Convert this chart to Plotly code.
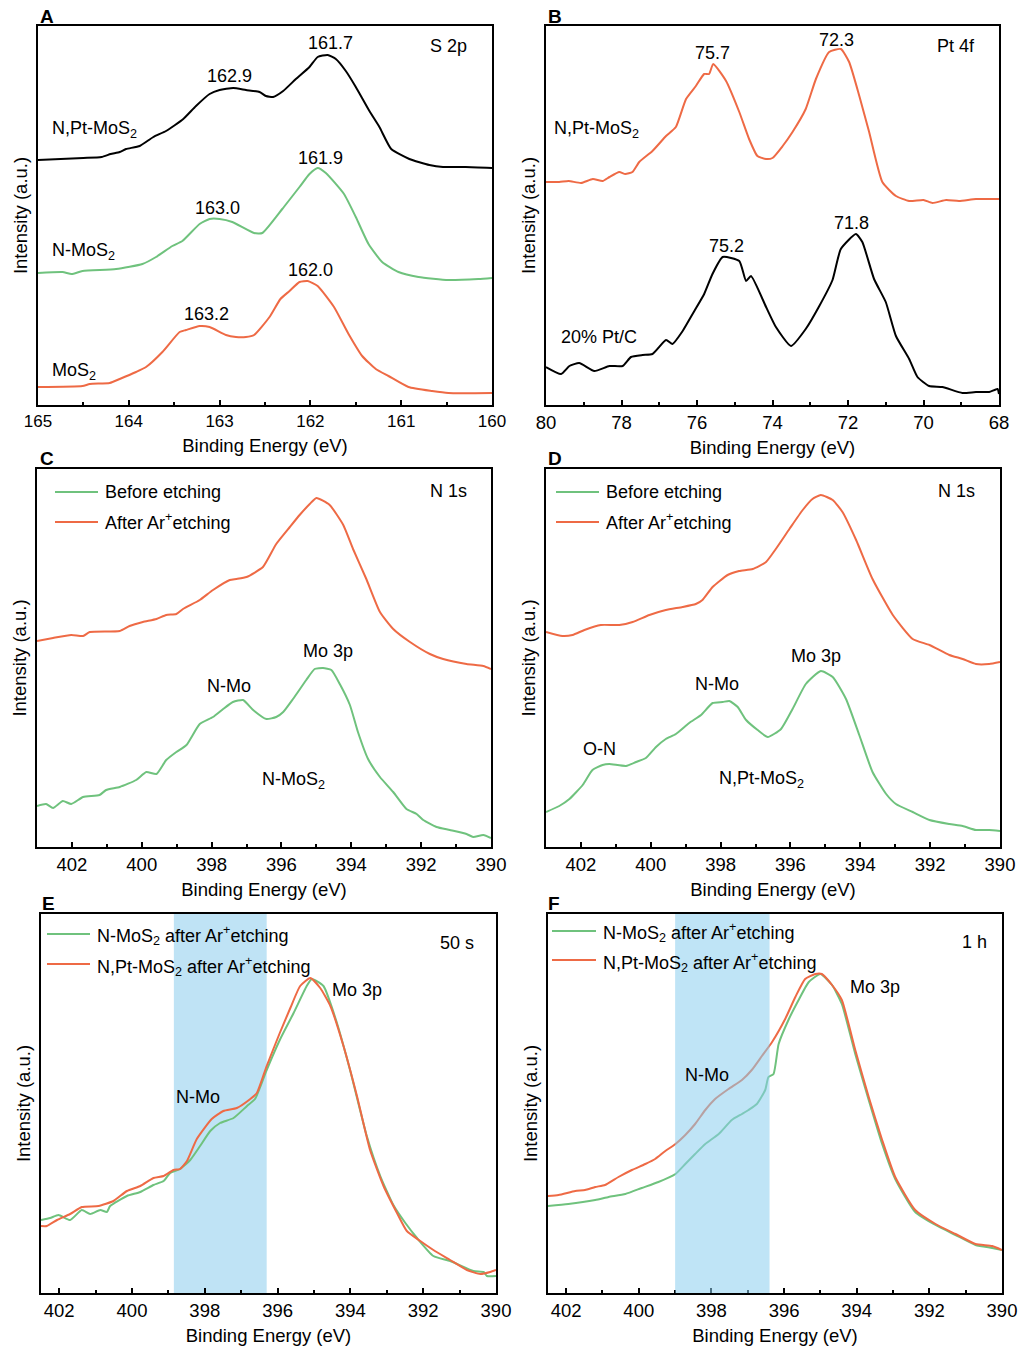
import plotly.graph_objects as go

W, H = 1019, 1349
RED = "#EE6A45"
GREEN = "#6FC27D"
BLACK = "#000000"
BAND = "#8ACDEE"
FONT = "Liberation Sans, Arial, sans-serif"

# ---------------- Panel A : S 2p ----------------
a_x_ntpt = [165.0, 164.5, 164.3, 164.2, 164.1, 164.03, 163.88, 163.73, 163.59, 163.4, 163.26, 163.11, 163.0,
            162.85, 162.71, 162.56, 162.49, 162.41, 162.3, 162.16, 162.01, 161.92, 161.81, 161.72, 161.61,
            161.5, 161.35, 161.24, 161.11, 160.91, 160.69, 160.54, 160.29, 160.0]
a_y_ntpt = [245, 247, 248, 251, 253, 256, 259, 268, 274, 286, 299, 311, 315, 317, 315, 313, 309, 308, 314,
            326, 338, 348, 350, 346, 334, 318, 294, 278, 256, 246, 240, 238, 238, 237]
a_x_nmos = [165.0, 164.73, 164.63, 164.51, 164.14, 163.85, 163.7, 163.52, 163.41, 163.22, 163.11, 163.0,
            162.86, 162.62, 162.53, 162.31, 162.12, 162.01, 161.92, 161.83, 161.63, 161.5, 161.36, 161.21,
            161.03, 160.81, 160.48, 160.15, 160.0]
a_y_nmos = [132, 133, 131, 134, 136, 141, 148, 159, 164, 181, 186, 186, 183, 172, 172, 196, 218, 231, 237,
            232, 211, 188, 161, 143, 133, 128, 125, 126, 127]
a_x_mos = [165.0, 164.51, 164.43, 164.21, 164.1, 163.92, 163.81, 163.63, 163.44, 163.37, 163.22, 163.11,
           162.93, 162.82, 162.71, 162.62, 162.45, 162.33, 162.23, 162.12, 162.03, 161.92, 161.74, 161.58,
           161.43, 161.28, 161.14, 160.92, 160.66, 160.48, 160.0]
a_y_mos = [18, 19, 21, 22, 26, 33, 38, 53, 73, 75, 79, 78, 70, 68, 68, 70, 88, 106, 114, 123, 124, 119, 98,
           71, 49, 36, 29, 18, 14, 12, 12]

# ---------------- Panel B : Pt 4f ----------------
b_x_ntpt = [80.0, 79.65, 79.4, 79.07, 78.76, 78.5, 78.32, 78.06, 77.9, 77.71, 77.53, 77.18, 76.82, 76.56,
            76.29, 76.03, 75.81, 75.68, 75.57, 75.23, 74.88, 74.62, 74.4, 74.17, 74.0, 73.73, 73.47, 73.12,
            72.85, 72.5, 72.19, 71.97, 71.7, 71.44, 71.09, 70.73, 70.38, 70.0, 69.76, 69.4, 69.06, 68.61, 68.0]
b_y_ntpt = [223, 223, 224, 222, 226, 224, 228, 233, 231, 233, 243, 254, 269, 278, 306, 319, 331, 331, 341,
            324, 293, 266, 249, 246, 247, 259, 273, 296, 326, 353, 356, 343, 309, 273, 223, 209, 204, 205,
            202, 205, 204, 206, 206]
b_x_ptc = [80.0, 79.6, 79.38, 79.12, 78.72, 78.32, 77.97, 77.75, 77.44, 77.18, 76.82, 76.65, 76.38, 76.07,
           75.81, 75.59, 75.32, 74.88, 74.7, 74.57, 74.17, 73.91, 73.51, 73.12, 72.76, 72.41, 72.19, 71.79,
           71.62, 71.31, 71.0, 70.73, 70.38, 70.16, 69.85, 69.5, 68.97, 68.61, 68.26, 68.04, 68.0]
b_y_ptc = [38, 31, 39, 42, 34, 39, 39, 48, 50, 51, 65, 61, 74, 94, 111, 131, 148, 144, 124, 129, 98, 78, 59,
           76, 99, 125, 156, 171, 163, 126, 103, 69, 46, 28, 19, 18, 12, 13, 13, 16, 11]

# ---------------- Panel C : N 1s (N-MoS2) ----------------
c_x_after = [403.0, 402.54, 402.02, 401.68, 401.49, 400.63, 400.35, 399.97, 399.58, 399.3, 399.01, 398.82,
             398.34, 397.96, 397.48, 397.29, 397.0, 396.53, 396.15, 395.76, 395.48, 395.19, 395.0, 394.62,
             394.23, 393.95, 393.57, 393.18, 392.8, 392.32, 391.75, 391.37, 390.7, 390.22, 390.0]
c_y_after = [206, 209, 212, 211, 215, 216, 221, 225, 228, 232, 233, 238, 247, 257, 267, 268, 270, 280, 303,
             320, 332, 343, 349, 342, 322, 298, 268, 235, 218, 205, 193, 188, 183, 181, 178]
c_x_before = [403.0, 402.74, 402.54, 402.26, 402.02, 401.68, 401.21, 401.02, 400.63, 400.16, 399.87, 399.58,
              399.3, 399.01, 398.72, 398.34, 397.96, 397.67, 397.39, 397.1, 396.81, 396.43, 396.15, 395.95,
              395.67, 395.29, 395.05, 394.81, 394.57, 394.33, 394.04, 393.81, 393.52, 393.18, 392.8, 392.42,
              392.13, 391.94, 391.56, 391.18, 390.7, 390.51, 390.22, 390.0]
c_y_before = [41, 43, 39, 46, 43, 50, 52, 57, 60, 67, 75, 73, 87, 95, 102, 123, 130, 138, 145, 147, 137, 128,
              130, 135, 148, 167, 178, 179, 177, 163, 142, 115, 88, 70, 55, 38, 33, 27, 20, 17, 13, 10, 12, 9]

# ---------------- Panel D : N 1s (N,Pt-MoS2) ----------------
d_x_after = [403.0, 402.53, 402.24, 401.9, 401.43, 400.9, 400.52, 400.04, 399.57, 399.09, 398.71, 398.52,
             398.23, 397.8, 397.47, 397.08, 396.7, 396.42, 396.03, 395.65, 395.37, 395.13, 394.79, 394.51,
             394.12, 393.65, 393.07, 392.5, 392.02, 391.45, 391.07, 390.69, 390.31, 390.0]
d_y_after = [215, 211, 212, 217, 222, 222, 225, 232, 237, 240, 243, 247, 260, 272, 276, 278, 285, 298, 318,
             337, 348, 352, 347, 335, 307, 268, 232, 208, 202, 192, 188, 183, 183, 185]
d_x_before = [403.0, 402.62, 402.33, 401.95, 401.67, 401.38, 401.19, 400.71, 400.42, 400.14, 399.85, 399.57,
              399.28, 398.9, 398.56, 398.23, 397.94, 397.75, 397.51, 397.27, 396.94, 396.65, 396.27, 395.94,
              395.56, 395.13, 394.79, 394.41, 394.03, 393.65, 393.26, 392.98, 392.5, 392.02, 391.45, 391.07,
              390.69, 390.31, 390.0]
d_y_before = [35, 41, 48, 62, 77, 82, 83, 81, 85, 89, 100, 108, 113, 124, 132, 144, 145, 146, 140, 127, 117,
              110, 118, 138, 163, 176, 170, 148, 112, 75, 53, 43, 35, 27, 23, 21, 17, 17, 16]

# ---------------- Panel E : 50 s ----------------
e_x_ntpt = [402.5, 402.34, 402.06, 401.7, 401.38, 400.92, 400.51, 400.14, 399.77, 399.41, 399.13, 398.86,
            398.68, 398.49, 398.22, 397.81, 397.49, 397.12, 396.75, 396.57, 396.3, 395.94, 395.65, 395.38,
            395.1, 394.83, 394.55, 394.19, 393.82, 393.46, 393.09, 392.72, 392.45, 392.08, 391.72, 391.26,
            390.8, 390.43, 390.16, 390.0]
e_y_ntpt = [67, 67, 73, 79, 86, 87, 92, 102, 107, 115, 117, 123, 124, 132, 154, 174, 182, 185, 194, 200, 227,
            260, 285, 307, 315, 305, 287, 247, 197, 143, 107, 80, 62, 52, 43, 33, 23, 19, 21, 23]
e_x_nmos = [402.5, 402.25, 402.02, 401.7, 401.38, 401.15, 400.87, 400.69, 400.6, 400.14, 399.77, 399.41,
            399.13, 398.95, 398.68, 398.4, 398.13, 397.85, 397.58, 397.21, 396.84, 396.62, 396.3, 395.94,
            395.56, 395.2, 395.06, 394.74, 394.37, 394.01, 393.55, 393.18, 392.82, 392.49, 392.17, 391.72,
            391.26, 390.62, 390.34, 390.25, 390.0]
e_y_nmos = [73, 75, 78, 73, 83, 79, 83, 81, 87, 97, 101, 108, 112, 120, 124, 133, 147, 162, 170, 175, 187, 194,
            223, 253, 280, 307, 314, 307, 270, 223, 157, 117, 88, 70, 55, 37, 32, 22, 21, 17, 17]

# ---------------- Panel F : 1 h ----------------
f_x_ntpt = [402.51, 402.21, 401.75, 401.48, 401.2, 400.93, 400.56, 400.19, 399.82, 399.55, 399.27, 398.99,
            398.72, 398.45, 398.17, 397.9, 397.53, 397.16, 396.89, 396.61, 396.33, 395.97, 395.69, 395.42,
            395.14, 394.96, 394.68, 394.41, 394.04, 393.67, 393.3, 392.94, 392.39, 391.83, 391.28, 390.73,
            390.27, 390.0]
f_y_ntpt = [97, 98, 102, 103, 106, 108, 116, 123, 129, 134, 142, 149, 158, 169, 183, 194, 204, 213, 223, 237,
            251, 274, 296, 314, 319, 319, 308, 293, 243, 196, 153, 116, 83, 69, 59, 49, 47, 43]
f_x_nmos = [402.51, 401.94, 401.2, 400.83, 400.37, 399.92, 399.46, 398.99, 398.72, 398.45, 398.17, 397.8,
            397.44, 397.16, 396.98, 396.75, 396.52, 396.43, 396.29, 396.15, 395.88, 395.6, 395.32, 395.0,
            394.68, 394.41, 394.04, 393.67, 393.3, 392.94, 392.39, 391.83, 391.28, 390.73, 390.27, 390.0]
f_y_nmos = [87, 89, 93, 96, 99, 105, 111, 119, 129, 139, 149, 159, 173, 179, 183, 189, 203, 216, 219, 249, 273,
            293, 311, 319, 308, 289, 239, 193, 149, 114, 81, 68, 58, 48, 45, 43]


def px(x):
    return x / W


def py(y):
    return 1 - y / H


# panel geometry (pixels): left, right, top, bottom
panels = {
    "A": (38, 492, 26, 405),
    "B": (546, 999, 26, 405),
    "C": (37, 491, 469, 847),
    "D": (546, 1000, 469, 847),
    "E": (41, 496, 914, 1293),
    "F": (548, 1002, 914, 1293),
}
xranges = {"A": [165, 160], "B": [80, 68], "C": [403, 390], "D": [403, 390], "E": [402.5, 390], "F": [402.5, 390]}
dticks = {"A": (1, 0.5), "B": (2, 1), "C": (2, 1), "D": (2, 1), "E": (2, 1), "F": (2, 1)}
tickfs = {"A": 17, "B": 18.5, "C": 18.5, "D": 18.5, "E": 18.5, "F": 18.5}
order = ["A", "B", "C", "D", "E", "F"]

fig = go.Figure()

series = {
    "A": [(a_x_ntpt, a_y_ntpt, BLACK), (a_x_nmos, a_y_nmos, GREEN), (a_x_mos, a_y_mos, RED)],
    "B": [(b_x_ntpt, b_y_ntpt, RED), (b_x_ptc, b_y_ptc, BLACK)],
    "C": [(c_x_after, c_y_after, RED), (c_x_before, c_y_before, GREEN)],
    "D": [(d_x_after, d_y_after, RED), (d_x_before, d_y_before, GREEN)],
    "E": [(e_x_nmos, e_y_nmos, GREEN), (e_x_ntpt, e_y_ntpt, RED)],
    "F": [(f_x_nmos, f_y_nmos, GREEN), (f_x_ntpt, f_y_ntpt, RED)],
}

layout = dict(
    width=W, height=H, margin=dict(l=0, r=0, t=0, b=0),
    paper_bgcolor="white", plot_bgcolor="white", showlegend=False,
    font=dict(family=FONT, size=18, color="black"),
)

for i, p in enumerate(order):
    n = "" if i == 0 else str(i + 1)
    l, r, t, b = panels[p]
    for xs, ys, col in series[p]:
        fig.add_trace(go.Scatter(x=xs, y=ys, mode="lines", xaxis="x" + n, yaxis="y" + n,
                                 line=dict(color=col, width=2, shape="spline", smoothing=0.5),
                                 hoverinfo="skip"))
    layout["xaxis" + n] = dict(
        domain=[px(l), px(r)], anchor="y" + n, range=xranges[p], dtick=dticks[p][0],
        ticks="inside", ticklen=5, tickwidth=1.5, tickcolor="black",
        minor=dict(dtick=dticks[p][1], ticks="inside", ticklen=3, tickwidth=1.5, tickcolor="black"),
        showline=True, linecolor="black", linewidth=1.6, mirror=True, showgrid=False, zeroline=False,
        tickfont=dict(size=tickfs[p], family=FONT),
        title=dict(text="Binding Energy (eV)", font=dict(size=18.5, family=FONT), standoff=9),
        automargin=False,
    )
    yr = [0, b - t]
    layout["yaxis" + n] = dict(
        domain=[py(b), py(t)], anchor="x" + n, range=yr, showticklabels=False, ticks="",
        showline=True, linecolor="black", linewidth=1.6, mirror=True, showgrid=False, zeroline=False,
        title=dict(text="Intensity (a.u.)", font=dict(size=18.5, family=FONT), standoff=4),
        automargin=False,
    )

fig.update_layout(**layout)

annotations = []
shapes = []


def ann(text, x, y, xanchor="center", size=18, bold=False):
    if bold:
        text = "<b>" + text + "</b>"
    annotations.append(dict(text=text, x=px(x), y=py(y), xref="paper", yref="paper", showarrow=False,
                            xanchor=xanchor, yanchor="middle", font=dict(size=size, family=FONT, color="black")))


# panel letters
for p, (x, y) in {"A": (38, 17), "B": (546, 17), "C": (38, 458), "D": (546, 458), "E": (40, 903), "F": (546, 903)}.items():
    ann(p, x, y, xanchor="left", size=19, bold=True)

# A
ann("161.7", 330, 43); ann("162.9", 229, 76); ann("161.9", 320, 158); ann("163.0", 217, 208)
ann("162.0", 310, 270); ann("163.2", 206, 314); ann("S 2p", 448, 46)
ann("N,Pt-MoS<sub>2</sub>", 50, 129, "left"); ann("N-MoS<sub>2</sub>", 50, 252, "left"); ann("MoS<sub>2</sub>", 50, 371, "left")
# B
ann("75.7", 712, 53); ann("72.3", 836, 40); ann("71.8", 851, 223); ann("75.2", 726, 246); ann("Pt 4f", 956, 46)
ann("N,Pt-MoS<sub>2</sub>", 552, 129, "left"); ann("20% Pt/C", 559, 337, "left")
# C
ann("N 1s", 448, 491); ann("Mo 3p", 328, 651); ann("N-Mo", 229, 686); ann("N-MoS<sub>2</sub>", 293, 780)
ann("Before etching", 103, 492, "left"); ann("After Ar<sup>+</sup>etching", 103, 522, "left")
# D
ann("N 1s", 956, 491); ann("Mo 3p", 816, 656); ann("N-Mo", 717, 684); ann("O-N", 599, 749)
ann("N,Pt-MoS<sub>2</sub>", 761, 779)
ann("Before etching", 604, 492, "left"); ann("After Ar<sup>+</sup>etching", 604, 522, "left")
# E
ann("50 s", 457, 943); ann("Mo 3p", 357, 990); ann("N-Mo", 198, 1097)
ann("N-MoS<sub>2</sub> after Ar<sup>+</sup>etching", 95, 936, "left")
ann("N,Pt-MoS<sub>2</sub> after Ar<sup>+</sup>etching", 95, 966, "left")
# F
ann("1 h", 974, 942); ann("Mo 3p", 875, 987); ann("N-Mo", 707, 1075)
ann("N-MoS<sub>2</sub> after Ar<sup>+</sup>etching", 601, 932, "left")
ann("N,Pt-MoS<sub>2</sub> after Ar<sup>+</sup>etching", 601, 962, "left")

# legend line samples
for (x0, x1, y, col) in [(55, 98, 492, GREEN), (55, 98, 522, RED), (556, 599, 492, GREEN), (556, 599, 522, RED),
                         (47, 90, 934, GREEN), (47, 90, 964, RED), (552, 596, 931, GREEN), (552, 596, 960, RED)]:
    shapes.append(dict(type="line", xref="paper", yref="paper", x0=px(x0), x1=px(x1), y0=py(y), y1=py(y),
                       line=dict(color=col, width=2)))

# highlighted N-Mo bands
shapes.append(dict(type="rect", xref="x5", yref="y5 domain", x0=398.85, x1=396.3, y0=0, y1=1,
                   fillcolor="#BFE3F5", line=dict(width=0), layer="below"))
shapes.append(dict(type="rect", xref="x6", yref="y6 domain", x0=399.0, x1=396.4, y0=0, y1=1,
                   fillcolor=BAND, opacity=0.55, line=dict(width=0), layer="above"))

fig.update_layout(annotations=annotations, shapes=shapes)
fig.write_html("out.html")
